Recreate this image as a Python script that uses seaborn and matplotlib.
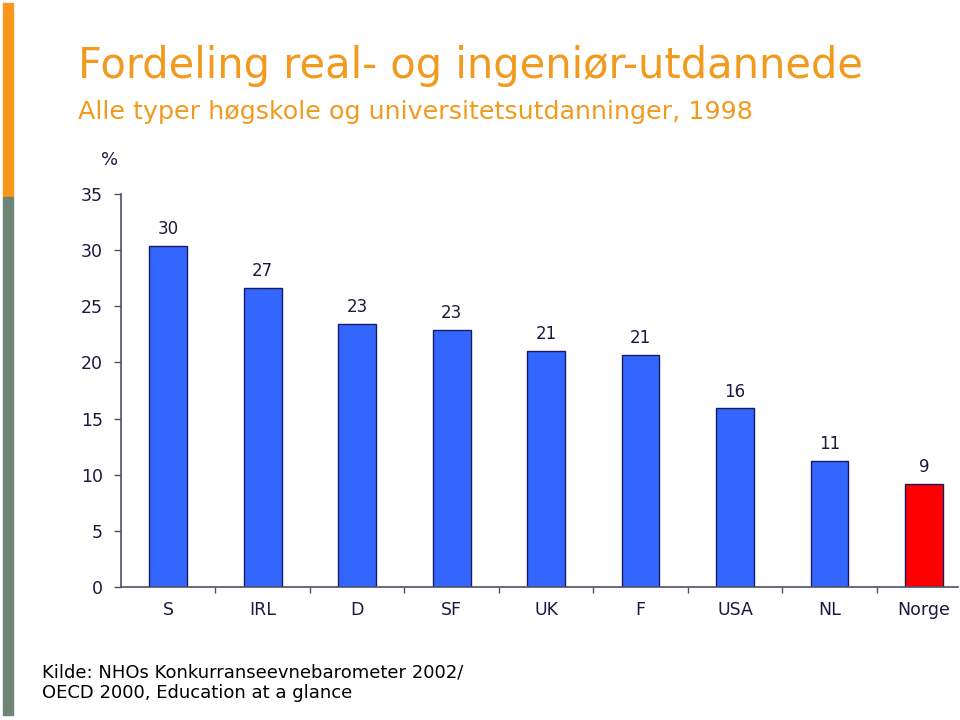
import matplotlib
matplotlib.use("Agg")
import matplotlib.pyplot as plt
import matplotlib.patches as mpatches
import seaborn as sns
import pandas as pd

# data
countries = ["S", "IRL", "D", "SF", "UK", "F", "USA", "NL", "Norge"]
shares = [30.4, 26.6, 23.4, 22.9, 21.0, 20.7, 15.9, 11.2, 9.2]
shown = [30, 27, 23, 23, 21, 21, 16, 11, 9]
bar_colors = ["#3366FF"] * 8 + ["#FF0000"]

sns.set_theme(style="white")
plt.rcParams["font.family"] = ["DejaVu Sans"]

df = pd.DataFrame({"land": countries, "andel": shares})

fig = plt.figure(figsize=(9.6, 7.2), dpi=100)
ax = fig.add_axes([121 / 960, 1 - 587 / 720, (958 - 121) / 960, (587 - 194) / 720])

sns.barplot(data=df, x="land", y="andel", hue="land", palette=bar_colors,
            saturation=1, width=0.4, edgecolor="#1a1a60", linewidth=1,
            legend=False, ax=ax)

navy = "#1a1a40"
axis_col = "#50506a"
for bar, val in zip(ax.patches, shown):
    ax.text(bar.get_x() + bar.get_width() / 2, bar.get_height() + 0.7, str(val),
            ha="center", va="bottom", fontsize=12, color=navy)

ax.set_ylim(0, 35)
ax.set_xlim(-0.5, 8.36)
ax.set_yticks(range(0, 36, 5))
ax.set_xticks(range(len(countries)))
ax.set_xticklabels(countries)
ax.set_xticks([i + 0.5 for i in range(len(countries) - 1)], minor=True)
ax.tick_params(axis="y", which="major", direction="out", length=5, width=1,
               color=axis_col, labelsize=12.5, labelcolor=navy, pad=8, left=True)
ax.tick_params(axis="x", which="major", length=0, labelsize=12.5,
               labelcolor=navy, pad=10)
ax.tick_params(axis="x", which="minor", direction="out", length=4, width=1,
               color=axis_col, bottom=True)
ax.set_xlabel("")
ax.set_ylabel("")
for side in ["top", "right"]:
    ax.spines[side].set_visible(False)
for side in ["left", "bottom"]:
    ax.spines[side].set_color(axis_col)
    ax.spines[side].set_linewidth(1.2)

fig.text(110 / 960, 1 - 160 / 720, "%", fontsize=13, color=navy,
         ha="center", va="center")

orange = "#F29A1E"
fig.text(78 / 960, 1 - 78 / 720, "Fordeling real- og ingeniør-utdannede",
         fontsize=30, color=orange, ha="left", va="baseline")
fig.text(78 / 960, 1 - 119 / 720, "Alle typer høgskole og universitetsutdanninger, 1998",
         fontsize=18.3, color=orange, ha="left", va="baseline")
fig.text(42 / 960, 1 - 698 / 720,
         "Kilde: NHOs Konkurranseevnebarometer 2002/\nOECD 2000, Education at a glance",
         fontsize=13, color="black", ha="left", va="baseline", linespacing=1.15)

# side strip
fig.patches.append(mpatches.Rectangle((3 / 960, 1 - 197 / 720), 10 / 960, 194 / 720,
                                      transform=fig.transFigure, color="#F7981D"))
fig.patches.append(mpatches.Rectangle((3 / 960, 1 - 715 / 720), 10 / 960, 518 / 720,
                                      transform=fig.transFigure, color="#6F8677"))

fig.savefig("out.png", dpi=100)
